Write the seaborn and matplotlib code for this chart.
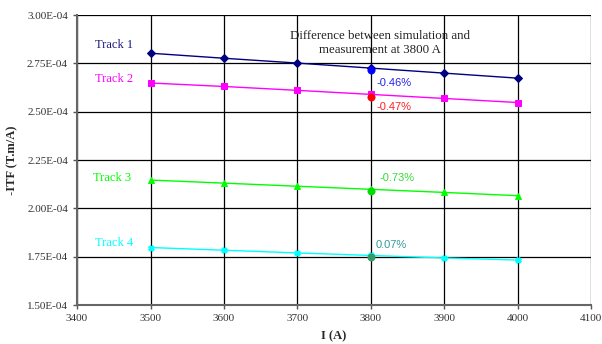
import numpy as np
import pandas as pd
import seaborn as sns
import matplotlib
matplotlib.use('Agg')
import matplotlib.pyplot as plt

# current (A) and simulated -ITF (T.m/A) per track
current = [3500, 3600, 3700, 3800, 3900, 4000]
track1 = [2.803e-4, 2.777e-4, 2.752e-4, 2.726e-4, 2.700e-4, 2.674e-4]
track2 = [2.649e-4, 2.631e-4, 2.611e-4, 2.590e-4, 2.569e-4, 2.548e-4]
track3 = [2.147e-4, 2.131e-4, 2.115e-4, 2.099e-4, 2.083e-4, 2.066e-4]
track4 = [1.798e-4, 1.784e-4, 1.770e-4, 1.757e-4, 1.744e-4, 1.733e-4]
tracks = ['Track 1', 'Track 2', 'Track 3', 'Track 4']

# measurement at 3800 A
meas_current = [3800, 3800, 3800, 3800]
meas_itf = [2.715e-4, 2.577e-4, 2.090e-4, 1.748e-4]
meas_diff = ['-0.46%', '-0.47%', '-0.73%', '0.07%']

sim = pd.DataFrame({'I': current * 4,
                    'ITF': track1 + track2 + track3 + track4,
                    'track': np.repeat(tracks, len(current))})
meas = pd.DataFrame({'I': meas_current, 'ITF': meas_itf, 'track': tracks})

line_cols = ['#000080', '#FF00FF', '#00FF00', '#00FFFF']
meas_cols = ['#0000FF', '#FF0000', '#00DD00', '#339966']
txt_cols = ['#2222EE', '#FF2222', '#33DD33', '#339999']
markers = ['D', 's', '^', 'X']

sns.set_style('white')
plt.rcParams['font.family'] = ['Liberation Serif', 'DejaVu Serif']

fig = plt.figure(figsize=(6.02, 3.44), dpi=100)
ax = fig.add_axes([0.128, 0.113, 0.854, 0.843])

for i, t in enumerate(tracks):
    d = sim[sim.track == t]
    sns.lineplot(data=d, x='I', y='ITF', color=line_cols[i], marker=markers[i],
                 markersize=4, markeredgecolor=line_cols[i], linewidth=1,
                 ax=ax, legend=False)
for i, t in enumerate(tracks):
    d = meas[meas.track == t]
    sns.scatterplot(data=d, x='I', y='ITF', color=meas_cols[i], s=28,
                    edgecolor=meas_cols[i], zorder=5, ax=ax, legend=False)

ax.set_xlim(3400, 4100)
ax.set_ylim(1.5e-4, 3.0e-4)
ax.set_xticks(np.arange(3400, 4101, 100))
ax.set_yticks(np.arange(1.5e-4, 3.01e-4, 0.25e-4))
ax.set_yticklabels(['%.2fE-04' % (v * 1e4) for v in ax.get_yticks()])
ax.tick_params(labelsize=8, length=3, direction='out', width=1, colors='#555555',
               labelcolor='#333333', bottom=True, left=True)
ax.grid(True, color='black', linewidth=0.9)
ax.set_axisbelow(True)
for s in ['top', 'right']:
    ax.spines[s].set_visible(False)
for s in ['left', 'bottom']:
    ax.spines[s].set_color('#666666')
    ax.spines[s].set_linewidth(1.5)

ax.set_xlabel('I (A)', fontsize=9, fontweight='bold', labelpad=5)
ax.set_ylabel('-ITF (T.m/A)', fontsize=9, fontweight='bold', labelpad=6)

# track labels
lab_x = [3424, 3424, 3422, 3424]
lab_y = [2.845e-4, 2.669e-4, 2.157e-4, 1.821e-4]
for i, t in enumerate(tracks):
    ax.text(lab_x[i], lab_y[i], t, color=line_cols[i] if i else '#1a1a80',
            fontsize=9, va='center', ha='left')

ax.text(3812, 2.857e-4, 'Difference between simulation and\nmeasurement at 3800 A',
        fontsize=9.3, ha='center', va='center', color='#222222', linespacing=1.2)

diff_x = [3808, 3808, 3812, 3807]
diff_y = [2.648e-4, 2.524e-4, 2.157e-4, 1.81e-4]
for i, d in enumerate(meas_diff):
    ax.text(diff_x[i], diff_y[i], d, color=txt_cols[i], fontsize=8,
            family=['Liberation Sans', 'DejaVu Sans'], va='center', ha='left')

plt.savefig('out.png', dpi=100)
